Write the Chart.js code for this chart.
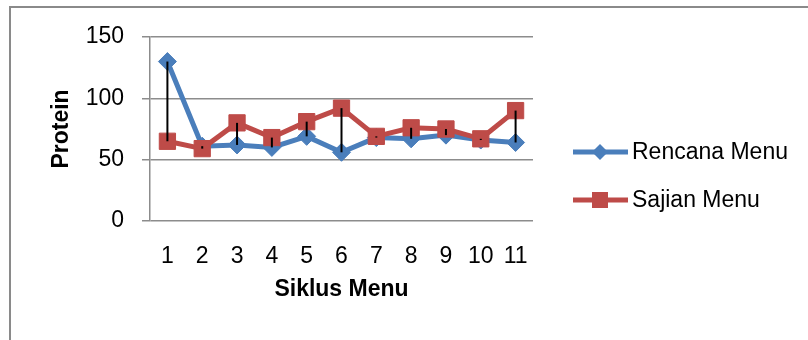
<!DOCTYPE html>
<html>
<head>
<meta charset="utf-8">
<script src="https://cdn.jsdelivr.net/npm/chart.js@4/dist/chart.umd.min.js"></script>
<style>
  html, body { margin: 0; padding: 0; background: #ffffff; }
  #wrap { position: relative; width: 808px; height: 340px; }
</style>
</head>
<body>
<div id="wrap"><canvas id="chart" width="808" height="340"></canvas></div>
<script>
// Protein per menu cycle: planned menu vs. served menu
const categories = ['1', '2', '3', '4', '5', '6', '7', '8', '9', '10', '11'];
const rencanaMenu = [130, 61, 62, 60, 69, 56, 68, 67, 70, 66, 64];
const sajianMenu  = [65, 59, 80, 68, 81, 92, 69, 76, 75, 67, 90];
const seriesNames = ['Rencana Menu', 'Sajian Menu'];
const yTickValues = [0, 50, 100, 150];

const BLUE = '#4A7EBB';
const RED = '#BE4B48';
const GRID = '#8c8c8c';
const FONT = "'Liberation Sans', Arial, sans-serif";

// outer frame of the chart object
const framePlugin = {
  id: 'frame',
  beforeDraw(chart) {
    const ctx = chart.ctx;
    ctx.save();
    ctx.strokeStyle = '#8a8a8a';
    ctx.lineWidth = 2;
    ctx.beginPath();
    ctx.moveTo(10, 340);
    ctx.lineTo(10, 7);
    ctx.lineTo(808, 7);
    ctx.stroke();
    ctx.restore();
  }
};

// vertical high-low lines joining the two series at each category
const highLowPlugin = {
  id: 'highLow',
  afterDatasetsDraw(chart) {
    const a = chart.getDatasetMeta(0).data;
    const b = chart.getDatasetMeta(1).data;
    const ctx = chart.ctx;
    ctx.save();
    ctx.strokeStyle = '#000000';
    ctx.lineWidth = 2;
    for (let i = 0; i < a.length; i++) {
      ctx.beginPath();
      ctx.moveTo(a[i].x, a[i].y);
      ctx.lineTo(b[i].x, b[i].y);
      ctx.stroke();
    }
    ctx.restore();
  }
};

// legend on the right: line sample with marker, then the series name
const sideLegendPlugin = {
  id: 'sideLegend',
  afterDraw(chart) {
    const ctx = chart.ctx;
    const items = [
      { name: seriesNames[0], color: BLUE, shape: 'diamond', y: 152 },
      { name: seriesNames[1], color: RED, shape: 'square', y: 200 }
    ];
    ctx.save();
    items.forEach(it => {
      ctx.strokeStyle = it.color;
      ctx.fillStyle = it.color;
      ctx.lineWidth = 5;
      ctx.beginPath();
      ctx.moveTo(573, it.y);
      ctx.lineTo(628, it.y);
      ctx.stroke();
      const cx = 600;
      ctx.beginPath();
      if (it.shape === 'diamond') {
        const r = 8;
        ctx.moveTo(cx - r, it.y);
        ctx.lineTo(cx, it.y - r);
        ctx.lineTo(cx + r, it.y);
        ctx.lineTo(cx, it.y + r);
        ctx.closePath();
      } else {
        const s = 8;
        ctx.rect(cx - s, it.y - s, 2 * s, 2 * s);
      }
      ctx.fill();
      ctx.fillStyle = '#000000';
      ctx.font = '23px ' + FONT;
      ctx.textAlign = 'left';
      ctx.textBaseline = 'middle';
      ctx.fillText(it.name, 632, it.y + 1);
    });
    ctx.restore();
  }
};

new Chart(document.getElementById('chart'), {
  type: 'line',
  data: {
    labels: categories,
    datasets: [
      {
        label: seriesNames[0],
        data: rencanaMenu,
        borderColor: BLUE,
        backgroundColor: BLUE,
        borderWidth: 5,
        pointStyle: 'rectRot',
        pointRadius: 9,
        pointBorderWidth: 1,
        pointBackgroundColor: BLUE,
        pointBorderColor: BLUE,
        tension: 0,
        order: 1
      },
      {
        label: seriesNames[1],
        data: sajianMenu,
        borderColor: RED,
        backgroundColor: RED,
        borderWidth: 5,
        pointStyle: 'rect',
        pointRadius: 11.5,
        pointBorderWidth: 1,
        pointBackgroundColor: RED,
        pointBorderColor: RED,
        tension: 0,
        order: 0
      }
    ]
  },
  options: {
    responsive: false,
    animation: false,
    devicePixelRatio: 1,
    layout: { padding: { left: 0, top: 37, right: 275, bottom: 0 } },
    plugins: {
      legend: { display: false },
      tooltip: { enabled: false }
    },
    scales: {
      x: {
        type: 'category',
        offset: true,
        grid: { display: false, drawTicks: false },
        border: { display: false },
        ticks: {
          color: '#000000',
          font: { family: FONT, size: 23 },
          padding: 22,
          maxRotation: 0,
          autoSkip: false
        },
        title: {
          display: true,
          text: 'Siklus Menu',
          color: '#000000',
          font: { family: FONT, size: 23, weight: 'bold' },
          padding: { top: 0, bottom: 37 }
        },
        afterFit(scale) { scale.height = 119; }
      },
      y: {
        min: 0,
        max: 150,
        afterBuildTicks(scale) { scale.ticks = yTickValues.map(v => ({ value: v })); },
        grid: { color: GRID, lineWidth: 1.5, drawTicks: true, tickLength: 8 },
        border: { display: true, color: GRID, width: 1.5 },
        ticks: {
          color: '#000000',
          font: { family: FONT, size: 23 },
          padding: 18
        },
        title: {
          display: true,
          text: 'Protein',
          color: '#000000',
          font: { family: FONT, size: 23, weight: 'bold' },
          padding: { top: 48, bottom: 0 }
        },
        afterFit(scale) { scale.width = 150; }
      }
    }
  },
  plugins: [framePlugin, highLowPlugin, sideLegendPlugin]
});
</script>
</body>
</html>
